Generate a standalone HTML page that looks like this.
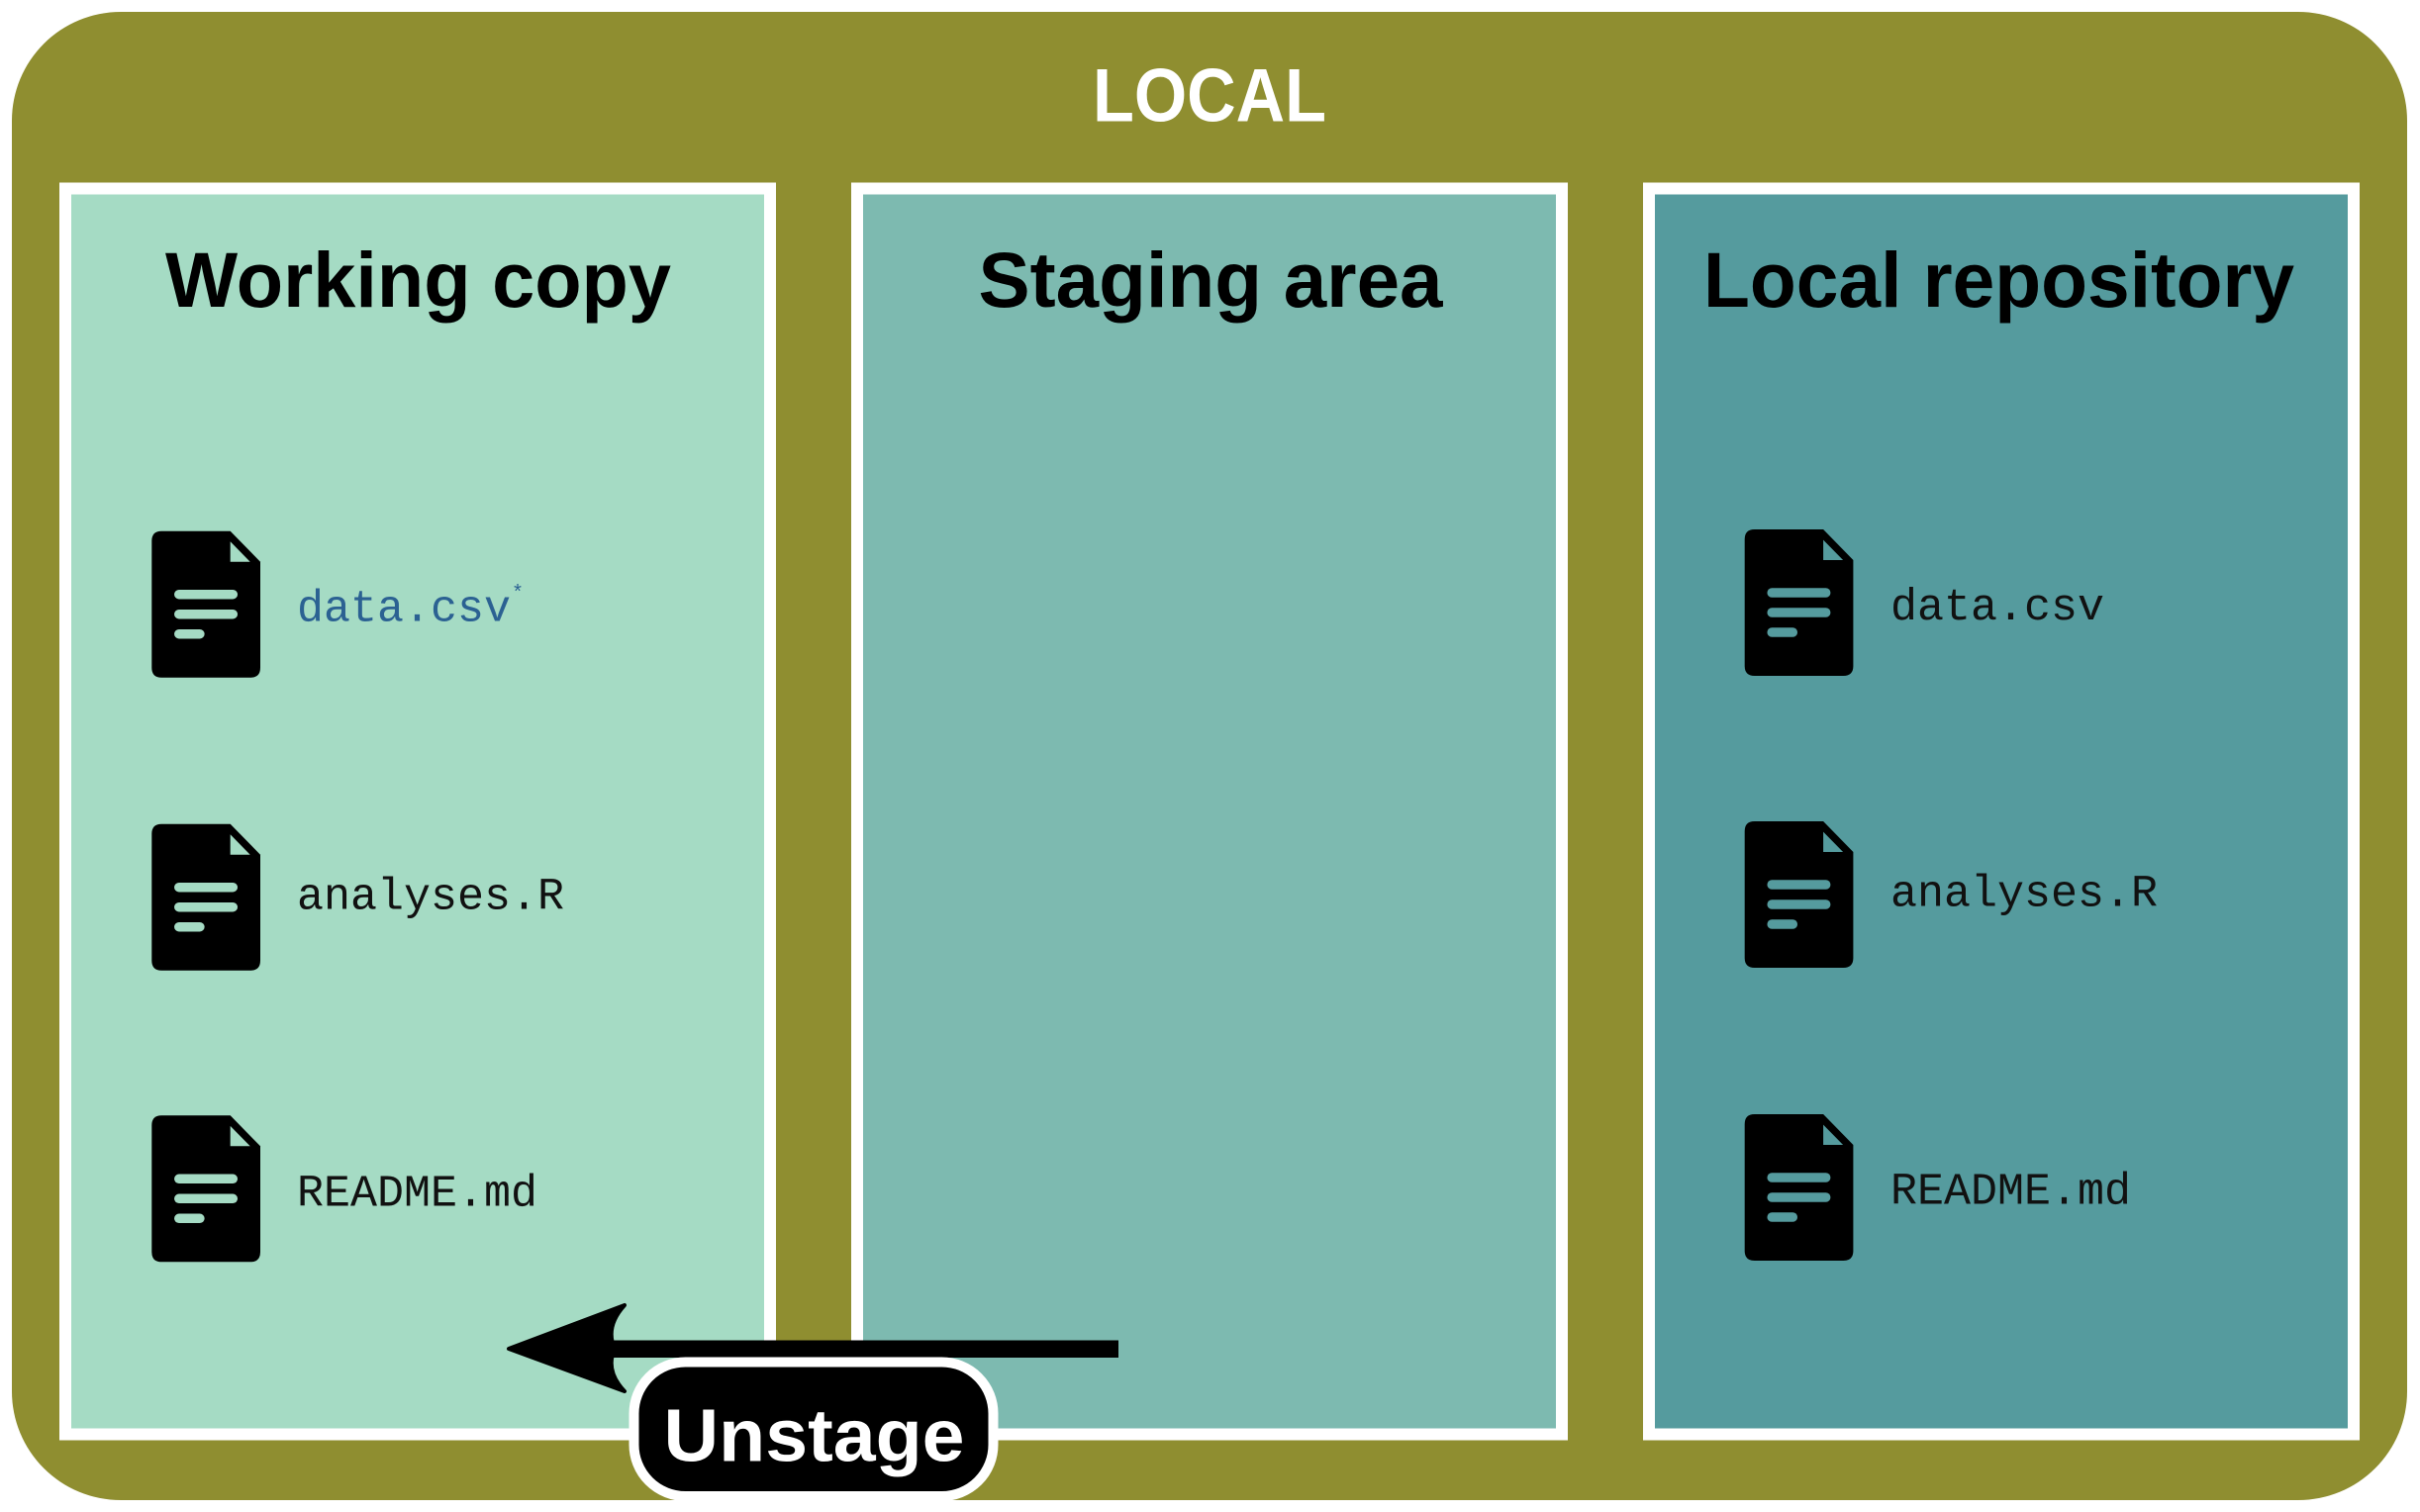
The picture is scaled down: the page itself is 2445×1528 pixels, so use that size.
<!DOCTYPE html>
<html>
<head>
<meta charset="utf-8">
<style>
  html, body { margin: 0; padding: 0; background: #ffffff; }
  svg { display: block; }
  .title { font-family: "Liberation Sans", "DejaVu Sans", sans-serif; font-weight: bold; fill: #000; }
  .mono { font-family: "Liberation Mono", "DejaVu Sans Mono", monospace; font-size: 45px; }
</style>
</head>
<body>
<svg width="2445" height="1528" viewBox="0 0 2445 1528" xmlns="http://www.w3.org/2000/svg">
  <!-- outer LOCAL container -->
  <rect x="12" y="12" width="2420" height="1504" rx="110" ry="110" fill="#8f8e30"/>
  <text x="1222" y="122.7" text-anchor="middle" class="title" font-size="76" fill="#ffffff" style="fill:#ffffff" textLength="236" lengthAdjust="spacingAndGlyphs">LOCAL</text>

  <!-- panels -->
  <rect x="66" y="190.5" width="712" height="1259" fill="#a5dbc4" stroke="#ffffff" stroke-width="12"/>
  <rect x="866" y="190.5" width="712" height="1259" fill="#7dbab0" stroke="#ffffff" stroke-width="12"/>
  <rect x="1666" y="190.5" width="712" height="1259" fill="#559b9e" stroke="#ffffff" stroke-width="12"/>

  <!-- titles -->
  <text x="422.5" y="310" text-anchor="middle" class="title" font-size="79" textLength="511" lengthAdjust="spacingAndGlyphs">Working copy</text>
  <text x="1223" y="310" text-anchor="middle" class="title" font-size="79" textLength="469" lengthAdjust="spacingAndGlyphs">Staging area</text>
  <text x="2019.5" y="310" text-anchor="middle" class="title" font-size="79" textLength="597" lengthAdjust="spacingAndGlyphs">Local repository</text>

  <!-- Working copy icons -->
  <g transform="translate(153.3,536.7)">
    <path d="M10,0 H79.4 L109.7,31 V138 Q109.7,148 99.7,148 H10 Q0,148 0,138 V10 Q0,0 10,0 Z" fill="#000"/>
    <path d="M79.4,10.6 V31 H99.4 Z" fill="#a5dbc4"/>
    <g stroke="#a5dbc4" stroke-width="9.5" stroke-linecap="round">
      <line x1="27.5" y1="64" x2="82" y2="64"/>
      <line x1="27.5" y1="84" x2="82" y2="84"/>
      <line x1="27.5" y1="104" x2="48.6" y2="104"/>
    </g>
  </g>
  <g transform="translate(153.3,832.7)">
    <path d="M10,0 H79.4 L109.7,31 V138 Q109.7,148 99.7,148 H10 Q0,148 0,138 V10 Q0,0 10,0 Z" fill="#000"/>
    <path d="M79.4,10.6 V31 H99.4 Z" fill="#a5dbc4"/>
    <g stroke="#a5dbc4" stroke-width="9.5" stroke-linecap="round">
      <line x1="27.5" y1="64" x2="82" y2="64"/>
      <line x1="27.5" y1="84" x2="82" y2="84"/>
      <line x1="27.5" y1="104" x2="48.6" y2="104"/>
    </g>
  </g>
  <g transform="translate(153.3,1127.3)">
    <path d="M10,0 H79.4 L109.7,31 V138 Q109.7,148 99.7,148 H10 Q0,148 0,138 V10 Q0,0 10,0 Z" fill="#000"/>
    <path d="M79.4,10.6 V31 H99.4 Z" fill="#a5dbc4"/>
    <g stroke="#a5dbc4" stroke-width="9.5" stroke-linecap="round">
      <line x1="27.5" y1="64" x2="82" y2="64"/>
      <line x1="27.5" y1="84" x2="82" y2="84"/>
      <line x1="27.5" y1="104" x2="48.6" y2="104"/>
    </g>
  </g>

  <text x="300" y="627.3" class="mono" fill="#2b6192">data.csv</text>
  <text x="517" y="605" font-family="Liberation Mono, monospace" font-size="20" fill="#2b6192">*</text>
  <text x="300" y="918.3" class="mono" fill="#111">analyses.R</text>
  <text x="300" y="1218.3" class="mono" fill="#111">README.md</text>

  <!-- Local repository icons -->
  <g transform="translate(1762.7,535)">
    <path d="M10,0 H79.4 L109.7,31 V138 Q109.7,148 99.7,148 H10 Q0,148 0,138 V10 Q0,0 10,0 Z" fill="#000"/>
    <path d="M79.4,10.6 V31 H99.4 Z" fill="#559b9e"/>
    <g stroke="#559b9e" stroke-width="9.5" stroke-linecap="round">
      <line x1="27.5" y1="64" x2="82" y2="64"/>
      <line x1="27.5" y1="84" x2="82" y2="84"/>
      <line x1="27.5" y1="104" x2="48.6" y2="104"/>
    </g>
  </g>
  <g transform="translate(1762.7,830)">
    <path d="M10,0 H79.4 L109.7,31 V138 Q109.7,148 99.7,148 H10 Q0,148 0,138 V10 Q0,0 10,0 Z" fill="#000"/>
    <path d="M79.4,10.6 V31 H99.4 Z" fill="#559b9e"/>
    <g stroke="#559b9e" stroke-width="9.5" stroke-linecap="round">
      <line x1="27.5" y1="64" x2="82" y2="64"/>
      <line x1="27.5" y1="84" x2="82" y2="84"/>
      <line x1="27.5" y1="104" x2="48.6" y2="104"/>
    </g>
  </g>
  <g transform="translate(1762.7,1126)">
    <path d="M10,0 H79.4 L109.7,31 V138 Q109.7,148 99.7,148 H10 Q0,148 0,138 V10 Q0,0 10,0 Z" fill="#000"/>
    <path d="M79.4,10.6 V31 H99.4 Z" fill="#559b9e"/>
    <g stroke="#559b9e" stroke-width="9.5" stroke-linecap="round">
      <line x1="27.5" y1="64" x2="82" y2="64"/>
      <line x1="27.5" y1="84" x2="82" y2="84"/>
      <line x1="27.5" y1="104" x2="48.6" y2="104"/>
    </g>
  </g>

  <text x="1910" y="626" class="mono" fill="#111">data.csv</text>
  <text x="1910" y="915.7" class="mono" fill="#111">analyses.R</text>
  <text x="1910" y="1216.7" class="mono" fill="#111">README.md</text>

  <!-- arrow -->
  <rect x="612" y="1354.5" width="518" height="17.5" fill="#000"/>
  <path d="M514,1363 L631,1319 Q611,1341 621,1363 Q611,1385 631,1406 Z" fill="#000" stroke="#000" stroke-width="4" stroke-linejoin="round"/>

  <!-- Unstage label -->
  <rect x="640.5" y="1376.5" width="363" height="135.5" rx="52" ry="52" fill="#000" stroke="#ffffff" stroke-width="10"/>
  <text x="822.5" y="1476.7" text-anchor="middle" class="title" font-size="75" style="fill:#ffffff" textLength="304" lengthAdjust="spacingAndGlyphs">Unstage</text>
</svg>
</body>
</html>
